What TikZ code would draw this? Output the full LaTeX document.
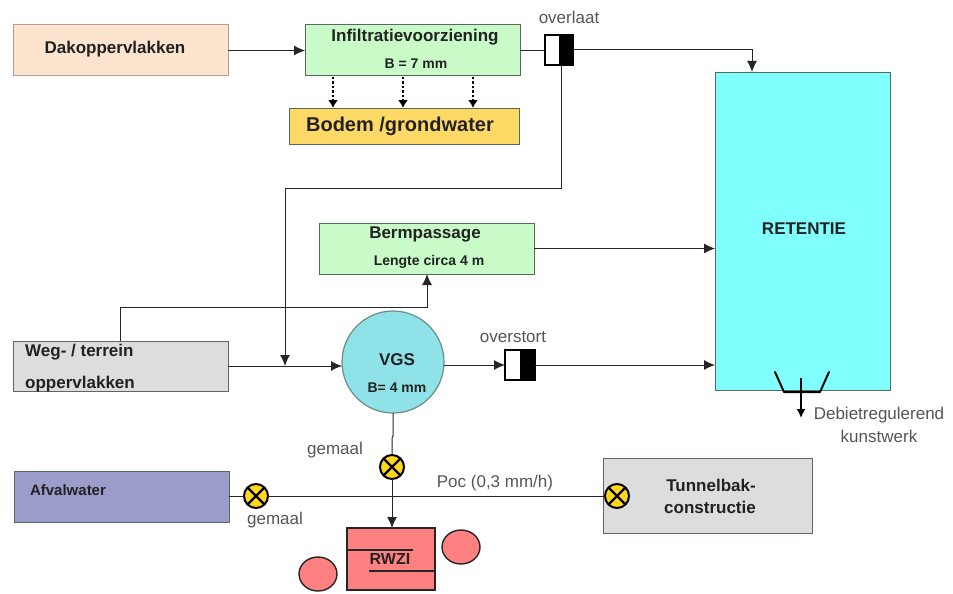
\documentclass[tikz,border=0pt]{standalone}
\usepackage{fontspec}
\setmainfont{Liberation Sans}
\usetikzlibrary{arrows.meta,calc,shapes.geometric}
\definecolor{peach}{HTML}{FDE4CF}
\definecolor{mint}{HTML}{C9FBC9}
\definecolor{sand}{HTML}{FFD966}
\definecolor{aqua}{HTML}{80FFFF}
\definecolor{vgsblue}{HTML}{8FE3E8}
\definecolor{lgray}{HTML}{DDDDDD}
\definecolor{lav}{HTML}{9C9CCB}
\definecolor{rose}{HTML}{FF8080}
\definecolor{pump}{HTML}{FFD81A}
\definecolor{edge}{HTML}{5A6A5A}
\definecolor{txt}{HTML}{222222}
\definecolor{lbl}{HTML}{555555}
\tikzset{
  x=1pt,y=-1pt,
  conn/.style={draw=black!85,line width=1pt},
  arr/.style={conn,-{Latex[length=11pt,width=10pt]}},
  dotarr/.style={draw=black,line width=2.4pt,dotted,-{Latex[length=8pt,width=10pt]}},
  boxn/.style={draw=edge,line width=1pt,anchor=north west,inner sep=0pt,outer sep=0pt},
  lab/.style={font=\fontsize{17}{20}\selectfont,text=lbl,inner sep=0pt},
  head/.style={font=\fontsize{17}{20}\bfseries\selectfont,text=txt,inner sep=0pt},
  small/.style={font=\fontsize{14}{16}\bfseries\selectfont,text=txt,inner sep=0pt},
  pumpn/.style={circle,draw=black,line width=2pt,fill=pump,minimum size=24pt,inner sep=0pt,outer sep=0pt},
  blob/.style={ellipse,draw=black!85,line width=1.4pt,fill=rose,minimum width=38pt,minimum height=34pt,inner sep=0pt},
  weirbox/.style={draw=black,line width=1.7pt,fill=white,anchor=north west,minimum height=30pt,inner sep=0pt,outer sep=0pt,
    path picture={\fill[black] (path picture bounding box.north) rectangle (path picture bounding box.south east);}},
}
\begin{document}
\begin{tikzpicture}
\useasboundingbox (0,0) rectangle (953,594);
% boxes
\node[boxn,fill=peach,draw=peach!70!black,minimum width=215pt,minimum height=51pt] (dak) at (13,25) {};
\node[boxn,fill=mint,minimum width=215pt,minimum height=51pt] (inf) at (305,25) {};
\node[boxn,fill=sand,minimum width=230pt,minimum height=36pt] (bod) at (289,108) {};
\node[boxn,fill=aqua,minimum width=175pt,minimum height=317pt] (ret) at (715,73) {};
\node[boxn,fill=mint,minimum width=215pt,minimum height=51pt] (ber) at (319,223) {};
\node[boxn,fill=lgray,minimum width=215pt,minimum height=50pt] (weg) at (13,341) {};
\node[boxn,fill=lav,minimum width=215pt,minimum height=51pt] (afv) at (14,471) {};
\node[boxn,fill=lgray,minimum width=209pt,minimum height=75pt] (tun) at (603,458) {};
\node[boxn,fill=rose,draw=black!85,line width=1.6pt,minimum width=88pt,minimum height=62pt] (rwz) at (347,528) {};
\node[circle,draw=edge!70!vgsblue,line width=1.2pt,fill=vgsblue,minimum size=102pt,inner sep=0pt,outer sep=0pt] (vgs) at (393,362) {};
\node[blob] (b1) at (318,574) {};
\node[blob] (b2) at (461,547) {};
% overflow structures
\node[weirbox,minimum width=28pt] (ovl) at (545,35) {};
\node[weirbox,minimum width=30pt] (ovs) at (505,350) {};
% free ends
\coordinate (c1) at (752,50);
\coordinate (c2) at (561,188);
\coordinate (c3) at (285,188);
\coordinate (c4) at (285,366);
\coordinate (c5) at (120,307);
\coordinate (c6) at (427,307);
\coordinate (wa) at (801,378);
\coordinate (wb) at (801,418);
\coordinate (w1) at (775,372);
\coordinate (w2) at (784,392);
\coordinate (w3) at (820,392);
\coordinate (w4) at (829,372);
% pump nodes
\node[pumpn] (p1) at (392,467) {};
\node[pumpn] (p2) at (256,496) {};
\node[pumpn] (p3) at (617,496) {};
% connectors
\draw[arr] (dak.east) -- (inf.west);
\draw[conn] (inf.east) -- (inf.east -| ovl.west);
\draw[arr] (ovl.east |- c1) -- (c1) -- (752,72);
\draw[arr] (ovl.south -| c2) -- (c2) -- (c3) -- (c4);
\draw[arr] (ber.east) -- (ret.west |- ber.east);
\draw[arr] (weg.east |- c4) -- (vgs.west |- c4);
\draw[arr] (120,341) -- (c5) -- (c6) -- (ber.south -| c6);
\draw[arr] (vgs.east |- ovs.west) -- (ovs.west);
\draw[arr] (ovs.east) -- (ret.west |- ovs.east);
\draw[conn] (vgs.south) -- (393,436) -- (392,438) -- (p1.north);
\draw[arr] (p1.south) -- (rwz.north -| p1);
\draw[conn] (afv.east |- p2) -- (p2.west);
\draw[conn] (p2.east) -- (p3.west);
\draw[conn] (p3.west) -- (tun.west |- p3);
\foreach \xx in {333,403,473} \draw[dotarr] (\xx,77) -- (\xx,108);
% pump crosses
\foreach \p in {p1,p2,p3} {
  \draw[black,line width=2.2pt] (\p.north west) -- (\p.south east) (\p.north east) -- (\p.south west);
}
% weir
\draw[black,line width=2pt,line cap=round,line join=round] (w1) -- (w2) -- (w3) -- (w4);
\draw[black,line width=1.6pt,-{Latex[length=9pt,width=9pt]}] (wa) -- (wb);
% RWZI inner
\draw[black!85,line width=1.5pt] (347,550) -- (413,550);
\draw[black!85,line width=1.5pt] (369,571) -- (435,571);
% text
\node[head] at (115,49) {Dakoppervlakken};
\node[head] at (415,37) {Infiltratievoorziening};
\node[small] at (416,64) {B = 7 mm};
\node[font=\fontsize{20}{24}\bfseries\selectfont,text=txt,inner sep=0pt] at (400,126) {Bodem /grondwater};
\node[head] at (425,234) {Bermpassage};
\node[small] at (429,262) {Lengte circa 4 m};
\node[head,anchor=west] at (25,352) {Weg- / terrein};
\node[head,anchor=west] at (25,384) {oppervlakken};
\node[head] at (804,229) {RETENTIE};
\node[head] at (397,360) {VGS};
\node[small] at (397,388) {B= 4 mm};
\node[font=\fontsize{15}{18}\bfseries\selectfont,text=txt,inner sep=0pt] at (68,490) {Afvalwater};
\node[head] at (711,485) {Tunnelbak-};
\node[head] at (710,507) {constructie};
\node[font=\fontsize{16}{19}\bfseries\selectfont,text=txt,inner sep=0pt] at (390,559) {RWZI};
\node[lab] at (569,17) {overlaat};
\node[lab] at (513,337) {overstort};
\node[lab] at (335,450) {gemaal};
\node[lab] at (275,520) {gemaal};
\node[lab] at (495,483) {Poc (0,3 mm/h)};
\node[lab] at (879,415) {Debietregulerend};
\node[lab] at (879,436) {kunstwerk};
\end{tikzpicture}
\end{document}
